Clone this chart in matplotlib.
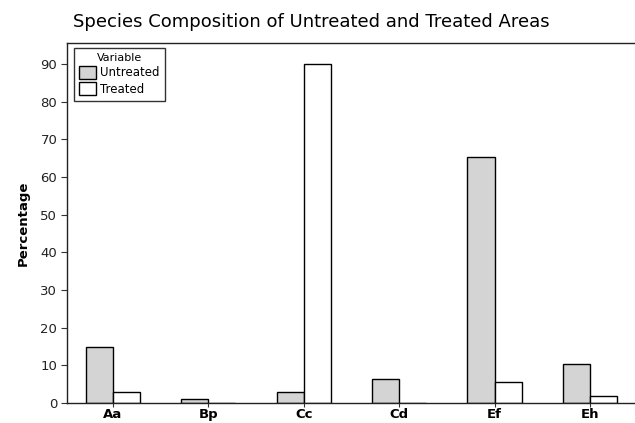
import numpy as np
import matplotlib
matplotlib.use("Agg")
import matplotlib.pyplot as plt

species = ["Aa", "Bp", "Cc", "Cd", "Ef", "Eh"]
untreated = [15.0, 1.0, 2.9, 6.3, 65.3, 10.3]
treated = [2.8, 0.0, 90.0, 0.0, 5.5, 1.9]

plt.rcParams['font.family'] = ['DejaVu Sans']

fig = plt.figure(figsize=(6.35, 4.23), dpi=100)
ax = fig.add_axes([67 / 635, 1 - 403 / 423, 1 - 67 / 635 + 0.003, 360 / 423])

x = np.arange(len(species))
w = 0.285
ax.bar(x - w / 2, untreated, w, color="#d4d4d4", edgecolor="black", linewidth=1.0, label="Untreated")
ax.bar(x + w / 2, treated, w, color="white", edgecolor="black", linewidth=1.0, label="Treated")

ax.set_xlim(-0.48, 5.49)
ax.set_ylim(0, 95.6)
ax.set_yticks(range(0, 91, 10))
ax.set_xticks(x)
ax.set_xticklabels(species, fontsize=9.5, fontweight="bold")
ax.tick_params(axis="y", labelsize=9.5, length=4, width=0.8, color="#333333", labelcolor="#222222", pad=3)
ax.tick_params(axis="x", length=3, width=0.8, color="#333333", pad=0.5)
for s in ax.spines.values():
    s.set_linewidth(1.0)
    s.set_color("#222222")
ax.spines["right"].set_visible(False)

ax.set_ylabel("Percentage", fontsize=9.5, fontweight="bold", labelpad=8)
fig.text(73 / 635, 1 - 27 / 423, "Species Composition of Untreated and Treated Areas",
         fontsize=13, ha="left", va="baseline")

leg = ax.legend(title="Variable", loc="upper left", bbox_to_anchor=(0.012, 0.986),
                fontsize=8.5, title_fontsize=8, frameon=True, fancybox=False,
                edgecolor="black", borderpad=0.45, handlelength=1.4, handleheight=1.4,
                handletextpad=0.4, labelspacing=0.2, borderaxespad=0)
leg.get_frame().set_linewidth(1.0)

fig.savefig("out.png", dpi=100)
